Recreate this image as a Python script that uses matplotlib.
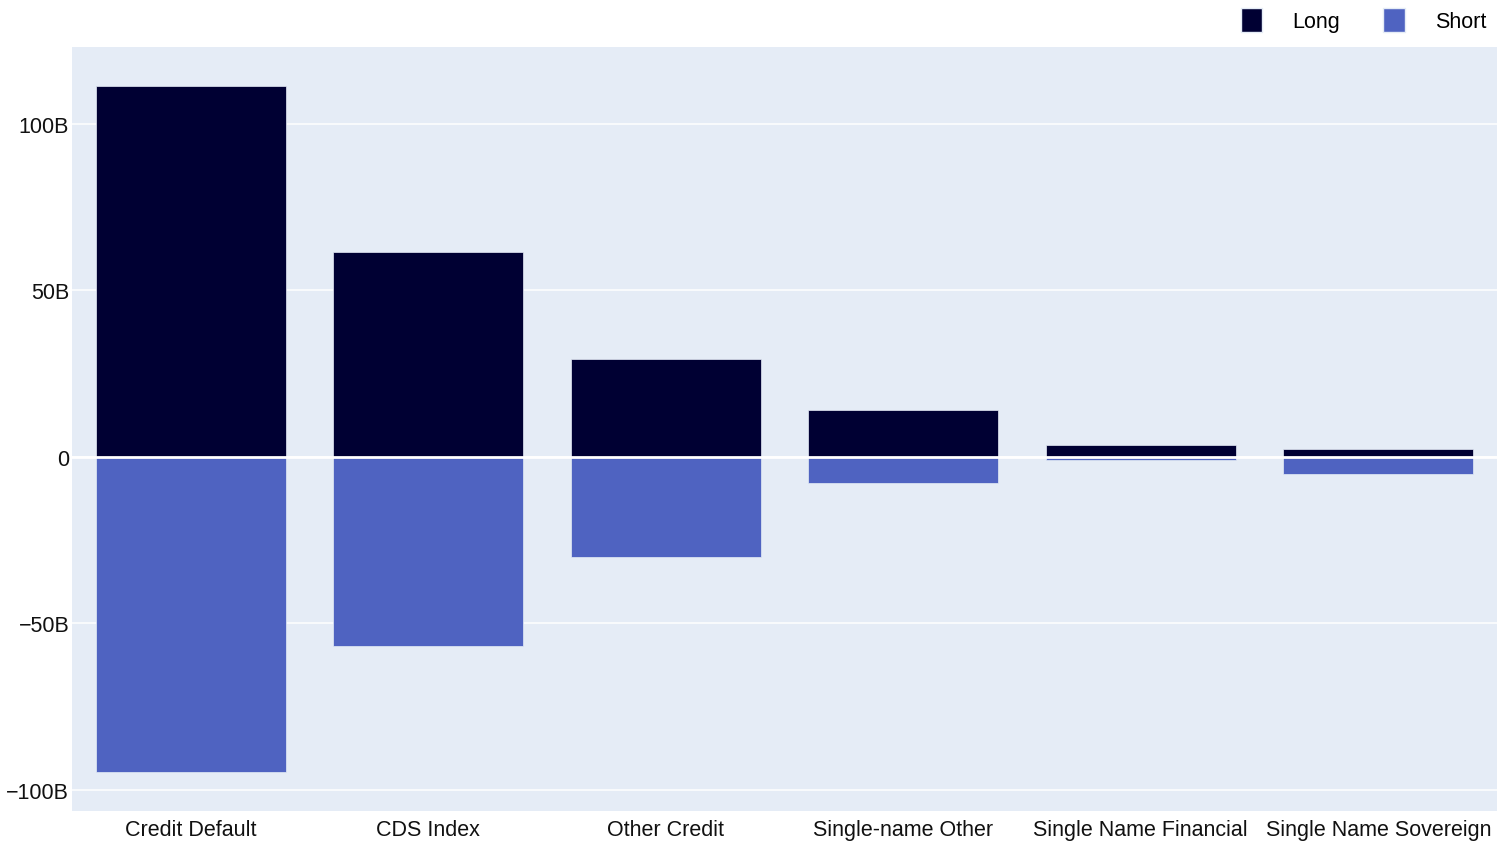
import matplotlib.pyplot as plt
from matplotlib.patches import Patch
from matplotlib.ticker import FuncFormatter

plt.rcParams['font.family'] = ['Liberation Sans', 'DejaVu Sans']

# notional exposure per credit product, in billions
categories = ["Credit Default", "CDS Index", "Other Credit", "Single-name Other",
              "Single Name Financial", "Single Name Sovereign"]
long_vals = [111.4, 61.5, 29.4, 14.0, 3.5, 2.3]
short_vals = [-94.7, -56.7, -29.9, -7.9, -1.0, -5.0]

long_color = "#000033"
short_color = "#4f63c1"
bg = "#e5ecf6"

fig = plt.figure(figsize=(15.1, 8.45), dpi=100)
ax = fig.add_axes([72 / 1510, 1 - 812 / 845, (1497 - 72) / 1510, (812 - 48) / 845])
ax.set_facecolor(bg)

x = range(len(categories))
ax.bar(x, long_vals, width=0.8, color=long_color, edgecolor="#e5ecf6", linewidth=0.5, zorder=3)
ax.bar(x, short_vals, width=0.8, color=short_color, edgecolor="#e5ecf6", linewidth=0.5, zorder=3)

ax.set_xlim(-0.5, len(categories) - 0.5)
ax.set_ylim(-106.3, 123.1)
ax.set_yticks([-100, -50, 0, 50, 100])


def fmt(v, pos):
    if v == 0:
        return "0"
    return ("\u2212" if v < 0 else "") + f"{abs(v):.0f}B"


ax.yaxis.set_major_formatter(FuncFormatter(fmt))
ax.set_xticks(list(x))
ax.set_xticklabels(categories)
ax.tick_params(axis="both", length=0, labelsize=15.5, colors="#111111")
ax.tick_params(axis="x", pad=6)
ax.tick_params(axis="y", pad=2)
ax.grid(axis="y", color="white", linewidth=1.1, zorder=1)
ax.axhline(0, color="white", linewidth=2.0, zorder=4)
for s in ax.spines.values():
    s.set_visible(False)

handles = [Patch(facecolor=long_color, edgecolor="#e5ecf6", label="Long"),
           Patch(facecolor=short_color, edgecolor="#e5ecf6", label="Short")]
fig.legend(handles=handles, loc="upper right", bbox_to_anchor=(0.997, 1.012), ncol=2,
           frameon=False, fontsize=15.5, handlelength=1.0, handleheight=1.3,
           handletextpad=1.4, columnspacing=2.0)

fig.savefig("out.png", dpi=100)
